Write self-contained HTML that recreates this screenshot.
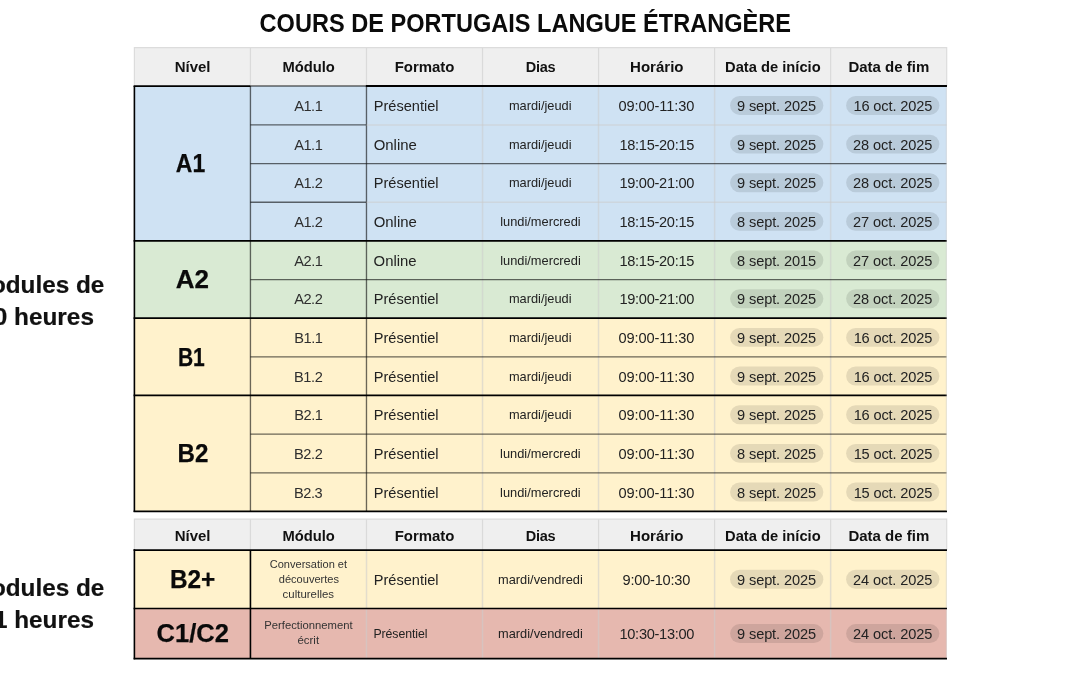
<!DOCTYPE html>
<html lang="fr"><head><meta charset="utf-8"><title>Cours de portugais langue étrangère</title>
<style>
html,body{margin:0;padding:0;background:#fff;}
body{width:1080px;height:675px;position:relative;overflow:hidden;}
svg{position:absolute;left:0;top:0;display:block;}
text{font-family:"Liberation Sans","DejaVu Sans",sans-serif;}
.b{font-weight:bold;}
</style></head><body>

<svg width="1080" height="675" viewBox="0 0 1080 675">
<rect x="134.4" y="47.6" width="812.28" height="38.4" fill="#efefef"/>
<line x1="250.44" y1="47.6" x2="250.44" y2="86" stroke="#dadada" stroke-width="1.2"/>
<line x1="366.48" y1="47.6" x2="366.48" y2="86" stroke="#dadada" stroke-width="1.2"/>
<line x1="482.52" y1="47.6" x2="482.52" y2="86" stroke="#dadada" stroke-width="1.2"/>
<line x1="598.56" y1="47.6" x2="598.56" y2="86" stroke="#dadada" stroke-width="1.2"/>
<line x1="714.6" y1="47.6" x2="714.6" y2="86" stroke="#dadada" stroke-width="1.2"/>
<line x1="830.64" y1="47.6" x2="830.64" y2="86" stroke="#dadada" stroke-width="1.2"/>
<path d="M134.4 86 V47.6 H946.68 V86" fill="none" stroke="#dcdcdc" stroke-width="1.2"/>
<rect x="134.4" y="86" width="812.28" height="154.64" fill="#cfe2f3"/>
<rect x="134.4" y="240.64" width="812.28" height="77.32" fill="#d9ead3"/>
<rect x="134.4" y="317.96" width="812.28" height="77.32" fill="#fff2cc"/>
<rect x="134.4" y="395.28" width="812.28" height="115.98" fill="#fff2cc"/>
<rect x="134.4" y="519.2" width="812.28" height="30.8" fill="#efefef"/>
<line x1="250.44" y1="519.2" x2="250.44" y2="550" stroke="#dadada" stroke-width="1.2"/>
<line x1="366.48" y1="519.2" x2="366.48" y2="550" stroke="#dadada" stroke-width="1.2"/>
<line x1="482.52" y1="519.2" x2="482.52" y2="550" stroke="#dadada" stroke-width="1.2"/>
<line x1="598.56" y1="519.2" x2="598.56" y2="550" stroke="#dadada" stroke-width="1.2"/>
<line x1="714.6" y1="519.2" x2="714.6" y2="550" stroke="#dadada" stroke-width="1.2"/>
<line x1="830.64" y1="519.2" x2="830.64" y2="550" stroke="#dadada" stroke-width="1.2"/>
<path d="M134.4 550 V519.2 H946.68 V550" fill="none" stroke="#dcdcdc" stroke-width="1.2"/>
<rect x="134.4" y="550" width="812.28" height="58.4" fill="#fff2cc"/>
<rect x="134.4" y="608.4" width="812.28" height="50.15" fill="#e6b8af"/>
<rect x="730.07" y="95.98" width="93.3" height="18.9" fill="#000" fill-opacity="0.1" rx="9.45"/>
<rect x="846.11" y="95.98" width="93.3" height="18.9" fill="#000" fill-opacity="0.1" rx="9.45"/>
<rect x="730.07" y="134.64" width="93.3" height="18.9" fill="#000" fill-opacity="0.1" rx="9.45"/>
<rect x="846.11" y="134.64" width="93.3" height="18.9" fill="#000" fill-opacity="0.1" rx="9.45"/>
<rect x="730.07" y="173.3" width="93.3" height="18.9" fill="#000" fill-opacity="0.1" rx="9.45"/>
<rect x="846.11" y="173.3" width="93.3" height="18.9" fill="#000" fill-opacity="0.1" rx="9.45"/>
<rect x="730.07" y="211.96" width="93.3" height="18.9" fill="#000" fill-opacity="0.1" rx="9.45"/>
<rect x="846.11" y="211.96" width="93.3" height="18.9" fill="#000" fill-opacity="0.1" rx="9.45"/>
<rect x="730.07" y="250.62" width="93.3" height="18.9" fill="#000" fill-opacity="0.1" rx="9.45"/>
<rect x="846.11" y="250.62" width="93.3" height="18.9" fill="#000" fill-opacity="0.1" rx="9.45"/>
<rect x="730.07" y="289.28" width="93.3" height="18.9" fill="#000" fill-opacity="0.1" rx="9.45"/>
<rect x="846.11" y="289.28" width="93.3" height="18.9" fill="#000" fill-opacity="0.1" rx="9.45"/>
<rect x="730.07" y="327.94" width="93.3" height="18.9" fill="#000" fill-opacity="0.1" rx="9.45"/>
<rect x="846.11" y="327.94" width="93.3" height="18.9" fill="#000" fill-opacity="0.1" rx="9.45"/>
<rect x="730.07" y="366.6" width="93.3" height="18.9" fill="#000" fill-opacity="0.1" rx="9.45"/>
<rect x="846.11" y="366.6" width="93.3" height="18.9" fill="#000" fill-opacity="0.1" rx="9.45"/>
<rect x="730.07" y="405.26" width="93.3" height="18.9" fill="#000" fill-opacity="0.1" rx="9.45"/>
<rect x="846.11" y="405.26" width="93.3" height="18.9" fill="#000" fill-opacity="0.1" rx="9.45"/>
<rect x="730.07" y="443.92" width="93.3" height="18.9" fill="#000" fill-opacity="0.1" rx="9.45"/>
<rect x="846.11" y="443.92" width="93.3" height="18.9" fill="#000" fill-opacity="0.1" rx="9.45"/>
<rect x="730.07" y="482.58" width="93.3" height="18.9" fill="#000" fill-opacity="0.1" rx="9.45"/>
<rect x="846.11" y="482.58" width="93.3" height="18.9" fill="#000" fill-opacity="0.1" rx="9.45"/>
<rect x="730.07" y="569.85" width="93.3" height="18.9" fill="#000" fill-opacity="0.1" rx="9.45"/>
<rect x="846.11" y="569.85" width="93.3" height="18.9" fill="#000" fill-opacity="0.1" rx="9.45"/>
<rect x="730.07" y="624.12" width="93.3" height="18.9" fill="#000" fill-opacity="0.1" rx="9.45"/>
<rect x="846.11" y="624.12" width="93.3" height="18.9" fill="#000" fill-opacity="0.1" rx="9.45"/>
<line x1="482.52" y1="86" x2="482.52" y2="511.26" stroke="#cccccc" stroke-width="1.5" stroke-opacity="0.55"/>
<line x1="598.56" y1="86" x2="598.56" y2="511.26" stroke="#cccccc" stroke-width="1.5" stroke-opacity="0.55"/>
<line x1="714.6" y1="86" x2="714.6" y2="511.26" stroke="#cccccc" stroke-width="1.5" stroke-opacity="0.55"/>
<line x1="830.64" y1="86" x2="830.64" y2="511.26" stroke="#cccccc" stroke-width="1.5" stroke-opacity="0.55"/>
<line x1="250.44" y1="86" x2="250.44" y2="511.26" stroke="#000" stroke-width="1.35" stroke-opacity="0.58"/>
<line x1="366.48" y1="86" x2="366.48" y2="511.26" stroke="#000" stroke-width="1.35" stroke-opacity="0.58"/>
<line x1="250.44" y1="124.91" x2="366.48" y2="124.91" stroke="#000" stroke-width="1.35" stroke-opacity="0.58"/>
<line x1="366.48" y1="124.91" x2="946.68" y2="124.91" stroke="#cccccc" stroke-width="1.5" stroke-opacity="0.55"/>
<line x1="250.44" y1="163.57" x2="366.48" y2="163.57" stroke="#000" stroke-width="1.35" stroke-opacity="0.58"/>
<line x1="366.48" y1="163.57" x2="946.68" y2="163.57" stroke="#000" stroke-width="1.35" stroke-opacity="0.58"/>
<line x1="250.44" y1="202.23" x2="366.48" y2="202.23" stroke="#000" stroke-width="1.35" stroke-opacity="0.58"/>
<line x1="366.48" y1="202.23" x2="946.68" y2="202.23" stroke="#cccccc" stroke-width="1.5" stroke-opacity="0.55"/>
<line x1="250.44" y1="279.55" x2="366.48" y2="279.55" stroke="#000" stroke-width="1.35" stroke-opacity="0.58"/>
<line x1="366.48" y1="279.55" x2="946.68" y2="279.55" stroke="#000" stroke-width="1.35" stroke-opacity="0.58"/>
<line x1="250.44" y1="356.87" x2="366.48" y2="356.87" stroke="#000" stroke-width="1.35" stroke-opacity="0.58"/>
<line x1="366.48" y1="356.87" x2="946.68" y2="356.87" stroke="#000" stroke-width="1.35" stroke-opacity="0.58"/>
<line x1="250.44" y1="434.19" x2="366.48" y2="434.19" stroke="#000" stroke-width="1.35" stroke-opacity="0.58"/>
<line x1="366.48" y1="434.19" x2="946.68" y2="434.19" stroke="#000" stroke-width="1.35" stroke-opacity="0.58"/>
<line x1="250.44" y1="472.85" x2="366.48" y2="472.85" stroke="#000" stroke-width="1.35" stroke-opacity="0.58"/>
<line x1="366.48" y1="472.85" x2="946.68" y2="472.85" stroke="#000" stroke-width="1.35" stroke-opacity="0.58"/>
<line x1="133.6" y1="86.15" x2="250.44" y2="86.15" stroke="#000" stroke-width="1.7"/>
<line x1="250.44" y1="86" x2="366.48" y2="86" stroke="#000" stroke-width="1.4" stroke-opacity="0.6"/>
<line x1="365.88" y1="86.05" x2="946.98" y2="86.05" stroke="#000" stroke-width="2.05"/>
<line x1="133.6" y1="240.79" x2="946.98" y2="240.79" stroke="#000" stroke-width="1.75"/>
<line x1="133.6" y1="318.11" x2="946.98" y2="318.11" stroke="#000" stroke-width="1.75"/>
<line x1="133.6" y1="395.43" x2="946.98" y2="395.43" stroke="#000" stroke-width="1.75"/>
<line x1="133.6" y1="511.41" x2="946.98" y2="511.41" stroke="#000" stroke-width="1.75"/>
<line x1="134.4" y1="86" x2="134.4" y2="512.06" stroke="#000" stroke-width="1.6"/>
<line x1="946.33" y1="87" x2="946.33" y2="510.46" stroke="#cccccc" stroke-width="1" stroke-opacity="0.5"/>
<line x1="946.33" y1="550.9" x2="946.33" y2="657.75" stroke="#cccccc" stroke-width="1" stroke-opacity="0.5"/>
<line x1="366.48" y1="550" x2="366.48" y2="658.55" stroke="#cccccc" stroke-width="1.5" stroke-opacity="0.55"/>
<line x1="482.52" y1="550" x2="482.52" y2="658.55" stroke="#cccccc" stroke-width="1.5" stroke-opacity="0.55"/>
<line x1="598.56" y1="550" x2="598.56" y2="658.55" stroke="#cccccc" stroke-width="1.5" stroke-opacity="0.55"/>
<line x1="714.6" y1="550" x2="714.6" y2="658.55" stroke="#cccccc" stroke-width="1.5" stroke-opacity="0.55"/>
<line x1="830.64" y1="550" x2="830.64" y2="658.55" stroke="#cccccc" stroke-width="1.5" stroke-opacity="0.55"/>
<line x1="250.44" y1="550" x2="250.44" y2="658.55" stroke="#000" stroke-width="1.6"/>
<line x1="134.4" y1="549.2" x2="134.4" y2="659.35" stroke="#000" stroke-width="1.6"/>
<line x1="133.6" y1="550.05" x2="946.98" y2="550.05" stroke="#000" stroke-width="1.65"/>
<line x1="133.6" y1="608.45" x2="946.98" y2="608.45" stroke="#000" stroke-width="1.65"/>
<line x1="133.6" y1="658.6" x2="946.98" y2="658.6" stroke="#000" stroke-width="1.65"/>
<text x="192.57" y="72" font-size="14.5" fill="#111" text-anchor="middle" textLength="35.82" lengthAdjust="spacingAndGlyphs" class="b">Nível</text>
<text x="192.57" y="541" font-size="14.5" fill="#111" text-anchor="middle" textLength="35.82" lengthAdjust="spacingAndGlyphs" class="b">Nível</text>
<text x="308.63" y="72" font-size="14.5" fill="#111" text-anchor="middle" textLength="52.47" lengthAdjust="spacingAndGlyphs" class="b">Módulo</text>
<text x="308.63" y="541" font-size="14.5" fill="#111" text-anchor="middle" textLength="52.47" lengthAdjust="spacingAndGlyphs" class="b">Módulo</text>
<text x="424.53" y="72" font-size="14.5" fill="#111" text-anchor="middle" textLength="59.73" lengthAdjust="spacingAndGlyphs" class="b">Formato</text>
<text x="424.53" y="541" font-size="14.5" fill="#111" text-anchor="middle" textLength="59.73" lengthAdjust="spacingAndGlyphs" class="b">Formato</text>
<text x="540.73" y="72" font-size="14.5" fill="#111" text-anchor="middle" textLength="29.76" lengthAdjust="spacing" class="b">Dias</text>
<text x="540.73" y="541" font-size="14.5" fill="#111" text-anchor="middle" textLength="29.76" lengthAdjust="spacing" class="b">Dias</text>
<text x="656.81" y="72" font-size="14.5" fill="#111" text-anchor="middle" textLength="53.47" lengthAdjust="spacingAndGlyphs" class="b">Horário</text>
<text x="656.81" y="541" font-size="14.5" fill="#111" text-anchor="middle" textLength="53.47" lengthAdjust="spacingAndGlyphs" class="b">Horário</text>
<text x="772.85" y="72" font-size="14.5" fill="#111" text-anchor="middle" textLength="95.61" lengthAdjust="spacingAndGlyphs" class="b">Data de início</text>
<text x="772.85" y="541" font-size="14.5" fill="#111" text-anchor="middle" textLength="95.61" lengthAdjust="spacingAndGlyphs" class="b">Data de início</text>
<text x="888.84" y="72" font-size="14.5" fill="#111" text-anchor="middle" textLength="80.86" lengthAdjust="spacingAndGlyphs" class="b">Data de fim</text>
<text x="888.84" y="541" font-size="14.5" fill="#111" text-anchor="middle" textLength="80.86" lengthAdjust="spacingAndGlyphs" class="b">Data de fim</text>
<text x="190.51" y="172.32" font-size="26.3" fill="#0a0a0a" text-anchor="middle" textLength="29.39" lengthAdjust="spacingAndGlyphs" stroke="#0a0a0a" stroke-width="0.25" class="b">A1</text>
<text x="192.28" y="288.3" font-size="26.3" fill="#0a0a0a" text-anchor="middle" textLength="33.26" lengthAdjust="spacingAndGlyphs" stroke="#0a0a0a" stroke-width="0.25" class="b">A2</text>
<text x="191.36" y="365.62" font-size="26.3" fill="#0a0a0a" text-anchor="middle" textLength="26.92" lengthAdjust="spacingAndGlyphs" stroke="#0a0a0a" stroke-width="0.25" class="b">B1</text>
<text x="192.91" y="462.27" font-size="26.3" fill="#0a0a0a" text-anchor="middle" textLength="30.88" lengthAdjust="spacingAndGlyphs" stroke="#0a0a0a" stroke-width="0.25" class="b">B2</text>
<text x="308.49" y="110.93" font-size="14.6" fill="#2e2e2e" text-anchor="middle" textLength="28.55" lengthAdjust="spacing">A1.1</text>
<text x="373.77" y="110.93" font-size="14.5" fill="#222" text-anchor="start" textLength="64.79" lengthAdjust="spacingAndGlyphs">Présentiel</text>
<text x="540.23" y="110.03" font-size="12.4" fill="#222" text-anchor="middle" textLength="62.61" lengthAdjust="spacingAndGlyphs">mardi/jeudi</text>
<text x="656.47" y="110.93" font-size="14.6" fill="#222" text-anchor="middle" textLength="75.83" lengthAdjust="spacing">09:00-11:30</text>
<text x="776.51" y="110.93" font-size="14.6" fill="#222" text-anchor="middle" textLength="79.02" lengthAdjust="spacing">9 sept. 2025</text>
<text x="892.87" y="110.93" font-size="14.6" fill="#222" text-anchor="middle" textLength="78.82" lengthAdjust="spacing">16 oct. 2025</text>
<text x="308.49" y="149.59" font-size="14.6" fill="#2e2e2e" text-anchor="middle" textLength="28.55" lengthAdjust="spacing">A1.1</text>
<text x="373.67" y="149.59" font-size="14.5" fill="#222" text-anchor="start" textLength="43.14" lengthAdjust="spacingAndGlyphs">Online</text>
<text x="540.23" y="148.69" font-size="12.4" fill="#222" text-anchor="middle" textLength="62.61" lengthAdjust="spacingAndGlyphs">mardi/jeudi</text>
<text x="656.9" y="149.59" font-size="14.6" fill="#222" text-anchor="middle" textLength="74.95" lengthAdjust="spacing">18:15-20:15</text>
<text x="776.51" y="149.59" font-size="14.6" fill="#222" text-anchor="middle" textLength="79.02" lengthAdjust="spacing">9 sept. 2025</text>
<text x="892.66" y="149.59" font-size="14.6" fill="#222" text-anchor="middle" textLength="79.4" lengthAdjust="spacing">28 oct. 2025</text>
<text x="308.52" y="188.25" font-size="14.6" fill="#2e2e2e" text-anchor="middle" textLength="28.55" lengthAdjust="spacing">A1.2</text>
<text x="373.77" y="188.25" font-size="14.5" fill="#222" text-anchor="start" textLength="64.79" lengthAdjust="spacingAndGlyphs">Présentiel</text>
<text x="540.23" y="187.35" font-size="12.4" fill="#222" text-anchor="middle" textLength="62.61" lengthAdjust="spacingAndGlyphs">mardi/jeudi</text>
<text x="656.94" y="188.25" font-size="14.6" fill="#222" text-anchor="middle" textLength="75.04" lengthAdjust="spacing">19:00-21:00</text>
<text x="776.51" y="188.25" font-size="14.6" fill="#222" text-anchor="middle" textLength="79.02" lengthAdjust="spacing">9 sept. 2025</text>
<text x="892.66" y="188.25" font-size="14.6" fill="#222" text-anchor="middle" textLength="79.4" lengthAdjust="spacing">28 oct. 2025</text>
<text x="308.52" y="226.91" font-size="14.6" fill="#2e2e2e" text-anchor="middle" textLength="28.55" lengthAdjust="spacing">A1.2</text>
<text x="373.67" y="226.91" font-size="14.5" fill="#222" text-anchor="start" textLength="43.14" lengthAdjust="spacingAndGlyphs">Online</text>
<text x="540.44" y="226.01" font-size="12.4" fill="#222" text-anchor="middle" textLength="80.58" lengthAdjust="spacingAndGlyphs">lundi/mercredi</text>
<text x="656.9" y="226.91" font-size="14.6" fill="#222" text-anchor="middle" textLength="74.95" lengthAdjust="spacing">18:15-20:15</text>
<text x="776.54" y="226.91" font-size="14.6" fill="#222" text-anchor="middle" textLength="79.01" lengthAdjust="spacing">8 sept. 2025</text>
<text x="892.66" y="226.91" font-size="14.6" fill="#222" text-anchor="middle" textLength="79.4" lengthAdjust="spacing">27 oct. 2025</text>
<text x="308.59" y="265.57" font-size="14.6" fill="#2e2e2e" text-anchor="middle" textLength="28.57" lengthAdjust="spacing">A2.1</text>
<text x="373.6" y="265.57" font-size="14.5" fill="#222" text-anchor="start" textLength="43.01" lengthAdjust="spacingAndGlyphs">Online</text>
<text x="540.45" y="264.67" font-size="12.4" fill="#222" text-anchor="middle" textLength="80.6" lengthAdjust="spacingAndGlyphs">lundi/mercredi</text>
<text x="656.92" y="265.57" font-size="14.6" fill="#222" text-anchor="middle" textLength="74.94" lengthAdjust="spacing">18:15-20:15</text>
<text x="776.55" y="265.57" font-size="14.6" fill="#222" text-anchor="middle" textLength="78.98" lengthAdjust="spacing">8 sept. 2015</text>
<text x="892.65" y="265.57" font-size="14.6" fill="#222" text-anchor="middle" textLength="79.44" lengthAdjust="spacing">27 oct. 2025</text>
<text x="308.51" y="304.23" font-size="14.6" fill="#2e2e2e" text-anchor="middle" textLength="28.57" lengthAdjust="spacing">A2.2</text>
<text x="373.76" y="304.23" font-size="14.5" fill="#222" text-anchor="start" textLength="64.79" lengthAdjust="spacingAndGlyphs">Présentiel</text>
<text x="540.24" y="303.33" font-size="12.4" fill="#222" text-anchor="middle" textLength="62.6" lengthAdjust="spacingAndGlyphs">mardi/jeudi</text>
<text x="656.95" y="304.23" font-size="14.6" fill="#222" text-anchor="middle" textLength="75.02" lengthAdjust="spacing">19:00-21:00</text>
<text x="776.54" y="304.23" font-size="14.6" fill="#222" text-anchor="middle" textLength="78.96" lengthAdjust="spacing">9 sept. 2025</text>
<text x="892.65" y="304.23" font-size="14.6" fill="#222" text-anchor="middle" textLength="79.44" lengthAdjust="spacing">28 oct. 2025</text>
<text x="308.58" y="342.89" font-size="14.6" fill="#2e2e2e" text-anchor="middle" textLength="28.72" lengthAdjust="spacing">B1.1</text>
<text x="373.77" y="342.89" font-size="14.5" fill="#222" text-anchor="start" textLength="64.8" lengthAdjust="spacingAndGlyphs">Présentiel</text>
<text x="540.24" y="341.99" font-size="12.4" fill="#222" text-anchor="middle" textLength="62.59" lengthAdjust="spacingAndGlyphs">mardi/jeudi</text>
<text x="656.45" y="342.89" font-size="14.6" fill="#222" text-anchor="middle" textLength="75.79" lengthAdjust="spacing">09:00-11:30</text>
<text x="776.53" y="342.89" font-size="14.6" fill="#222" text-anchor="middle" textLength="78.95" lengthAdjust="spacing">9 sept. 2025</text>
<text x="892.98" y="342.89" font-size="14.6" fill="#222" text-anchor="middle" textLength="78.67" lengthAdjust="spacing">16 oct. 2025</text>
<text x="308.41" y="381.55" font-size="14.6" fill="#2e2e2e" text-anchor="middle" textLength="28.72" lengthAdjust="spacing">B1.2</text>
<text x="373.77" y="381.55" font-size="14.5" fill="#222" text-anchor="start" textLength="64.8" lengthAdjust="spacingAndGlyphs">Présentiel</text>
<text x="540.24" y="380.65" font-size="12.4" fill="#222" text-anchor="middle" textLength="62.59" lengthAdjust="spacingAndGlyphs">mardi/jeudi</text>
<text x="656.45" y="381.55" font-size="14.6" fill="#222" text-anchor="middle" textLength="75.79" lengthAdjust="spacing">09:00-11:30</text>
<text x="776.53" y="381.55" font-size="14.6" fill="#222" text-anchor="middle" textLength="78.95" lengthAdjust="spacing">9 sept. 2025</text>
<text x="892.98" y="381.55" font-size="14.6" fill="#222" text-anchor="middle" textLength="78.67" lengthAdjust="spacing">16 oct. 2025</text>
<text x="308.58" y="420.21" font-size="14.6" fill="#2e2e2e" text-anchor="middle" textLength="28.72" lengthAdjust="spacing">B2.1</text>
<text x="373.77" y="420.21" font-size="14.5" fill="#222" text-anchor="start" textLength="64.8" lengthAdjust="spacingAndGlyphs">Présentiel</text>
<text x="540.24" y="419.31" font-size="12.4" fill="#222" text-anchor="middle" textLength="62.59" lengthAdjust="spacingAndGlyphs">mardi/jeudi</text>
<text x="656.45" y="420.21" font-size="14.6" fill="#222" text-anchor="middle" textLength="75.79" lengthAdjust="spacing">09:00-11:30</text>
<text x="776.53" y="420.21" font-size="14.6" fill="#222" text-anchor="middle" textLength="78.95" lengthAdjust="spacing">9 sept. 2025</text>
<text x="892.98" y="420.21" font-size="14.6" fill="#222" text-anchor="middle" textLength="78.67" lengthAdjust="spacing">16 oct. 2025</text>
<text x="308.41" y="458.87" font-size="14.6" fill="#2e2e2e" text-anchor="middle" textLength="28.72" lengthAdjust="spacing">B2.2</text>
<text x="373.77" y="458.87" font-size="14.5" fill="#222" text-anchor="start" textLength="64.8" lengthAdjust="spacingAndGlyphs">Présentiel</text>
<text x="540.4" y="457.97" font-size="12.4" fill="#222" text-anchor="middle" textLength="80.67" lengthAdjust="spacingAndGlyphs">lundi/mercredi</text>
<text x="656.45" y="458.87" font-size="14.6" fill="#222" text-anchor="middle" textLength="75.79" lengthAdjust="spacing">09:00-11:30</text>
<text x="776.53" y="458.87" font-size="14.6" fill="#222" text-anchor="middle" textLength="78.99" lengthAdjust="spacing">8 sept. 2025</text>
<text x="892.98" y="458.87" font-size="14.6" fill="#222" text-anchor="middle" textLength="78.67" lengthAdjust="spacing">15 oct. 2025</text>
<text x="308.4" y="497.53" font-size="14.6" fill="#2e2e2e" text-anchor="middle" textLength="28.61" lengthAdjust="spacing">B2.3</text>
<text x="373.77" y="497.53" font-size="14.5" fill="#222" text-anchor="start" textLength="64.8" lengthAdjust="spacingAndGlyphs">Présentiel</text>
<text x="540.4" y="496.63" font-size="12.4" fill="#222" text-anchor="middle" textLength="80.67" lengthAdjust="spacingAndGlyphs">lundi/mercredi</text>
<text x="656.45" y="497.53" font-size="14.6" fill="#222" text-anchor="middle" textLength="75.79" lengthAdjust="spacing">09:00-11:30</text>
<text x="776.53" y="497.53" font-size="14.6" fill="#222" text-anchor="middle" textLength="78.99" lengthAdjust="spacing">8 sept. 2025</text>
<text x="892.98" y="497.53" font-size="14.6" fill="#222" text-anchor="middle" textLength="78.67" lengthAdjust="spacing">15 oct. 2025</text>
<text x="192.59" y="588.2" font-size="26.3" fill="#0a0a0a" text-anchor="middle" textLength="45.42" lengthAdjust="spacingAndGlyphs" stroke="#0a0a0a" stroke-width="0.25" class="b">B2+</text>
<text x="308.42" y="567.9" font-size="10.9" fill="#333" text-anchor="middle" textLength="77.31" lengthAdjust="spacingAndGlyphs">Conversation et</text>
<text x="308.9" y="582.8" font-size="10.9" fill="#333" text-anchor="middle" textLength="60.24" lengthAdjust="spacingAndGlyphs">découvertes</text>
<text x="308.37" y="597.7" font-size="10.9" fill="#333" text-anchor="middle" textLength="51.46" lengthAdjust="spacingAndGlyphs">culturelles</text>
<text x="373.77" y="585.2" font-size="14.5" fill="#222" text-anchor="start" textLength="64.8" lengthAdjust="spacingAndGlyphs">Présentiel</text>
<text x="540.45" y="583.9" font-size="12.4" fill="#222" text-anchor="middle" textLength="84.78" lengthAdjust="spacingAndGlyphs">mardi/vendredi</text>
<text x="656.44" y="584.8" font-size="14.6" fill="#222" text-anchor="middle" textLength="67.89" lengthAdjust="spacing">9:00-10:30</text>
<text x="776.53" y="584.8" font-size="14.6" fill="#222" text-anchor="middle" textLength="78.95" lengthAdjust="spacing">9 sept. 2025</text>
<text x="892.67" y="584.8" font-size="14.6" fill="#222" text-anchor="middle" textLength="79.43" lengthAdjust="spacing">24 oct. 2025</text>
<text x="192.75" y="642.47" font-size="26.3" fill="#0a0a0a" text-anchor="middle" textLength="72.33" lengthAdjust="spacingAndGlyphs" stroke="#0a0a0a" stroke-width="0.25" class="b">C1/C2</text>
<text x="308.41" y="629.4" font-size="10.9" fill="#333" text-anchor="middle" textLength="88.33" lengthAdjust="spacingAndGlyphs">Perfectionnement</text>
<text x="308.32" y="644.1" font-size="10.9" fill="#333" text-anchor="middle" textLength="21.55" lengthAdjust="spacingAndGlyphs">écrit</text>
<text x="373.42" y="638.17" font-size="12.3" fill="#222" text-anchor="start" textLength="54.05" lengthAdjust="spacing">Présentiel</text>
<text x="540.45" y="638.17" font-size="12.4" fill="#222" text-anchor="middle" textLength="84.75" lengthAdjust="spacingAndGlyphs">mardi/vendredi</text>
<text x="656.96" y="639.07" font-size="14.6" fill="#222" text-anchor="middle" textLength="74.98" lengthAdjust="spacing">10:30-13:00</text>
<text x="776.53" y="639.07" font-size="14.6" fill="#222" text-anchor="middle" textLength="78.96" lengthAdjust="spacing">9 sept. 2025</text>
<text x="892.69" y="639.07" font-size="14.6" fill="#222" text-anchor="middle" textLength="79.37" lengthAdjust="spacing">24 oct. 2025</text>
<text x="104.35" y="292.8" font-size="23.9" fill="#111" text-anchor="end" textLength="133.71" lengthAdjust="spacingAndGlyphs" stroke="#111" stroke-width="0.2" class="b">Modules de</text>
<text x="93.92" y="325.2" font-size="23.9" fill="#111" text-anchor="end" textLength="113.69" lengthAdjust="spacingAndGlyphs" stroke="#111" stroke-width="0.2" class="b">30 heures</text>
<text x="104.35" y="596" font-size="23.9" fill="#111" text-anchor="end" textLength="133.71" lengthAdjust="spacingAndGlyphs" stroke="#111" stroke-width="0.2" class="b">Modules de</text>
<text x="93.93" y="628.4" font-size="23.9" fill="#111" text-anchor="end" textLength="113.54" lengthAdjust="spacingAndGlyphs" stroke="#111" stroke-width="0.2" class="b">21 heures</text>
<text x="525.3" y="32.3" font-size="24.9" fill="#0b0b0b" text-anchor="middle" textLength="531.5" lengthAdjust="spacingAndGlyphs" class="b">COURS DE PORTUGAIS LANGUE ÉTRANGÈRE</text>
</svg>
</body></html>
